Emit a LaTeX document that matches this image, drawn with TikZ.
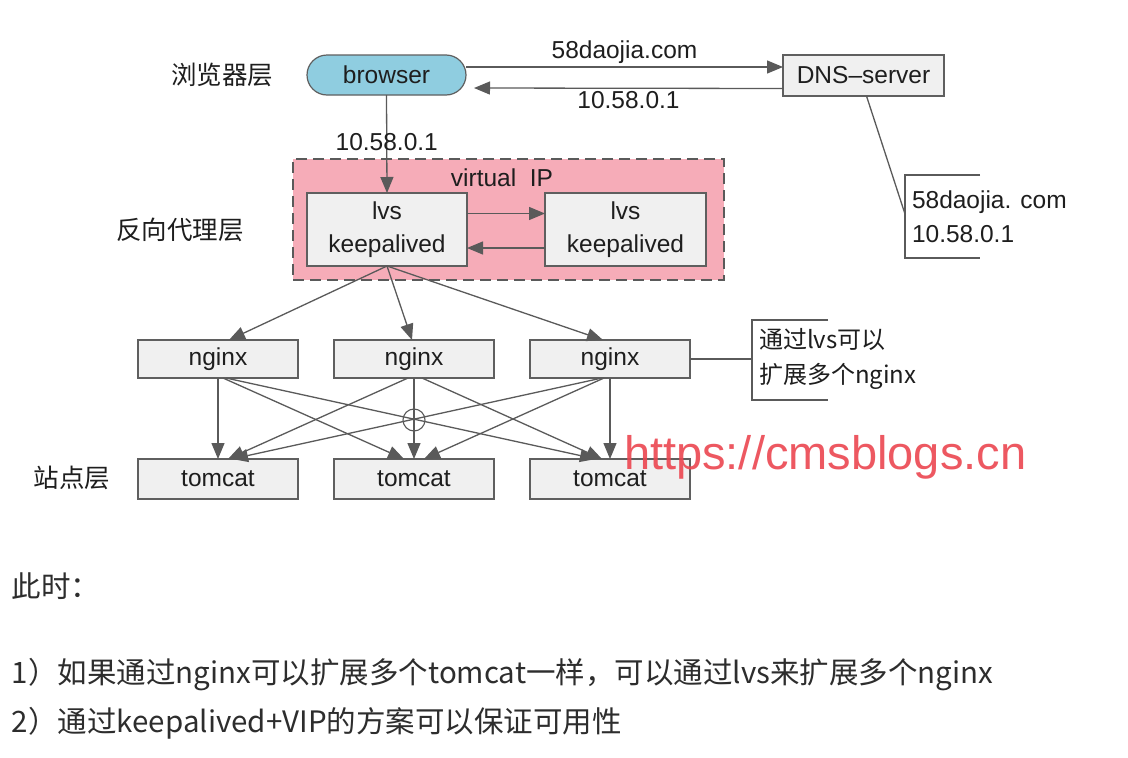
\documentclass[tikz,border=0pt]{standalone}
\usepackage{fontspec}
\setmainfont{Liberation Sans}
\newfontfamily\cjk{Noto Sans CJK SC}
\usetikzlibrary{arrows.meta,calc}
\definecolor{linegray}{RGB}{90,90,90}
\definecolor{boxgray}{RGB}{95,95,95}
\definecolor{boxfill}{RGB}{240,240,240}
\definecolor{pinkfill}{RGB}{246,172,184}
\definecolor{bluefill}{RGB}{143,205,224}
\definecolor{txt}{RGB}{30,30,30}
\definecolor{bodytxt}{RGB}{45,45,45}
\definecolor{wmred}{RGB}{236,70,80}
\begin{document}
\begin{tikzpicture}[x=1pt,y=-1pt,
  every node/.style={inner sep=0pt,outer sep=0pt,text=txt,font=\fontsize{24.5}{33}\selectfont},
  box/.style={draw=boxgray,line width=1.2pt,fill=boxfill,align=center},
  conn/.style={draw=linegray,line width=1.3pt,-{Triangle[length=16pt,width=13pt]}},
  plain/.style={draw=linegray,line width=1.3pt},
  layer/.style={font=\cjk\fontsize{25.5}{30}\selectfont},
  notetxt/.style={align=left,anchor=west,font=\fontsize{24.5}{34}\selectfont},
  body/.style={anchor=west,text=bodytxt,font=\cjk\fontsize{29.5}{32}\selectfont}]
\useasboundingbox (0,0) rectangle (1128,758);
\fill[white] (0,0) rectangle (1128,758);

% layer labels
\node[layer] (l1) at (222,75) {浏览器层};
\node[layer] (l2) at (180,230) {反向代理层};
\node[layer] (l3) at (72,478) {站点层};

% top row
\node[box,fill=bluefill,rounded corners=20pt,minimum width=159pt,minimum height=40pt] (browser) at (386.5,75) {browser};
\node[box,minimum width=161pt,minimum height=41pt] (dns) at (863.5,75.5) {DNS–server};

\draw[conn] ($(browser.east)+(0,-8)$) -- node[above=3pt] (q1) {58daojia.com} ($(dns.west)+(0,-8.5)$);
\draw[conn] ($(dns.west)+(0,13)$) -- node[below=3pt] (q2) {10.58.0.1} ($(browser.east)+(8,13)$);

% dns note
\coordinate (dn) at (905,214);
\draw[plain] (980,175) -- (905,175) -- (905,258) -- (980,258);
\node[notetxt] (dnote) at (912,217) {58daojia. com\\10.58.0.1};
\draw[plain] ($(dns.south)+(3,0)$) -- (dn);

% virtual IP region
\node[draw=linegray,line width=1.3pt,dash pattern=on 11pt off 6pt,fill=pinkfill,minimum width=431pt,minimum height=121pt] (vip) at (508.5,219.5) {};
\node (viptxt) at (502,178) {virtual\ \ IP};
\node[box,minimum width=160pt,minimum height=73pt] (lvs1) at (387,229.5) {lvs\\keepalived};
\node[box,minimum width=161pt,minimum height=73pt] (lvs2) at (625.5,229.5) {lvs\\keepalived};
\draw[conn] ($(lvs1.east)+(0,-16)$) -- ($(lvs2.west)+(0,-16)$);
\draw[conn] ($(lvs2.west)+(0,18.5)$) -- ($(lvs1.east)+(0,18.5)$);

\draw[conn] (browser.south) -- node[pos=0.48] (q3) {10.58.0.1} (lvs1.north);

% nginx
\node[box,minimum width=160pt,minimum height=38pt] (n1) at (218,359) {nginx};
\node[box,minimum width=160pt,minimum height=38pt] (n2) at (414,359) {nginx};
\node[box,minimum width=160pt,minimum height=38pt] (n3) at (610,359) {nginx};

\draw[conn] (lvs1.south) -- ($(n1.north)+(11,0)$);
\draw[conn] (lvs1.south) -- ($(n2.north)+(-2,0)$);
\draw[conn] (lvs1.south) -- ($(n3.north)+(-7,0)$);

% nginx note
\draw[plain] (828,320) -- (752,320) -- (752,400) -- (828,400);
\node[notetxt,font=\cjk\fontsize{24}{35}\selectfont] (nnote) at (759,359) {通过lvs可以\\扩展多个nginx};
\draw[plain] (n3.east) -- (752,359);

% tomcat
\node[box,minimum width=160pt,minimum height=40pt] (t1) at (218,479) {tomcat};
\node[box,minimum width=160pt,minimum height=40pt] (t2) at (414,479) {tomcat};
\node[box,minimum width=160pt,minimum height=40pt] (t3) at (610,479) {tomcat};

\draw[conn] (n1.south) -- (t1.north);
\draw[conn] ($(n1.south)+(5,0)$) -- ($(t2.north)+(-10,0)$);
\draw[conn] ($(n1.south)+(8,0)$) -- ($(t3.north)+(-14,0)$);
\draw[conn] ($(n2.south)+(-6,0)$) -- ($(t1.north)+(10,0)$);
\draw[conn] (n2.south) -- (t2.north);
\draw[conn] ($(n2.south)+(8,0)$) -- ($(t3.north)+(-8,0)$);
\draw[conn] ($(n3.south)+(-8,0)$) -- ($(t1.north)+(14,0)$);
\draw[conn] ($(n3.south)+(-6,0)$) -- ($(t2.north)+(10,0)$);
\draw[conn] (n3.south) -- (t3.north);
% line-jump circle where the crossing lines meet the middle vertical
\draw[plain,line width=1.1pt] (414,420) circle[radius=11pt];

% watermark
\node[anchor=base west,text=wmred,font=\fontsize{47}{50}\selectfont,opacity=0.9] (wm) at (624,469) {https://cmsblogs.cn};

% body text
\node[body] (b0) at (12,586) {此时：};
\node[body] (b1) at (12,675) {1）如果通过nginx可以扩展多个tomcat一样，可以通过lvs来扩展多个nginx};
\node[body] (b2) at (12,723) {2）通过keepalived+VIP的方案可以保证可用性};
\end{tikzpicture}
\end{document}
